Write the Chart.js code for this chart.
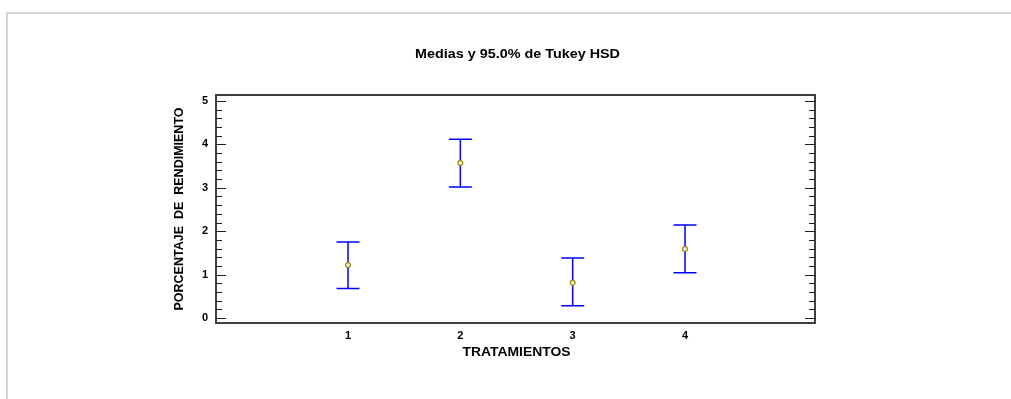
<!DOCTYPE html>
<html>
<head>
<meta charset="utf-8">
<script src="https://cdn.jsdelivr.net/npm/chart.js@4.4.1/dist/chart.umd.min.js"></script>
<style>
html,body{margin:0;padding:0;background:#fff;}
#wrap{width:1011px;height:399px;position:relative;}
</style>
</head>
<body>
<div id="wrap"><canvas id="c" width="1011" height="399"></canvas></div>
<script>
// ---- data ----
const categories = [1, 2, 3, 4];
const categoryLabels = ['1', '2', '3', '4'];
const means = [1.22, 3.57, 0.81, 1.59];
const lower = [0.68, 3.02, 0.28, 1.04];
const upper = [1.75, 4.12, 1.38, 2.14];
const yTicks = [0, 1, 2, 3, 4, 5];
const yMinorTicks = [0.2,0.4,0.6,0.8,1.2,1.4,1.6,1.8,2.2,2.4,2.6,2.8,3.2,3.4,3.6,3.8,4.2,4.4,4.6,4.8];
const chartTitle = 'Medias y 95.0% de Tukey HSD';
const xTitle = 'TRATAMIENTOS';
const yTitle = 'PORCENTAJE  DE  RENDIMIENTO';

const FONT = "'Liberation Sans', Arial, sans-serif";

function stretchedText(ctx, text, cx, cy, size, targetW) {
  ctx.save();
  ctx.font = 'bold ' + size + 'px ' + FONT;
  const w = ctx.measureText(text).width;
  const sx = targetW / w;
  ctx.translate(cx, cy);
  ctx.scale(sx, 1);
  ctx.textAlign = 'center';
  ctx.textBaseline = 'middle';
  ctx.fillStyle = '#000';
  ctx.fillText(text, 0, 0);
  ctx.restore();
}

const decor = {
  id: 'decor',
  beforeDraw(chart) {
    const ctx = chart.ctx;
    ctx.save();
    ctx.strokeStyle = '#d4d4d4';
    ctx.lineWidth = 2;
    ctx.beginPath();
    ctx.moveTo(7, 399);
    ctx.lineTo(7, 13);
    ctx.lineTo(1011, 13);
    ctx.stroke();
    ctx.restore();
  },
  afterDraw(chart) {
    const ctx = chart.ctx;
    const a = chart.chartArea;
    stretchedText(ctx, chartTitle, 517.5, 55, 12, 205);
    stretchedText(ctx, xTitle, (a.left + a.right) / 2 + 1, 352.5, 12.5, 108);
  },
  afterDatasetsDraw(chart) {
    const ctx = chart.ctx;
    const xs = chart.scales.x, ys = chart.scales.y;
    const a = chart.chartArea;
    ctx.save();
    // error bars
    ctx.strokeStyle = '#0000ff';
    ctx.lineWidth = 1.5;
    for (let i = 0; i < categories.length; i++) {
      const x = xs.getPixelForValue(categories[i]);
      const yl = ys.getPixelForValue(lower[i]);
      const yu = ys.getPixelForValue(upper[i]);
      ctx.beginPath();
      ctx.moveTo(x, yl); ctx.lineTo(x, yu);
      ctx.moveTo(x - 11.5, yl); ctx.lineTo(x + 11.5, yl);
      ctx.moveTo(x - 11.5, yu); ctx.lineTo(x + 11.5, yu);
      ctx.stroke();
    }
    // markers on top
    for (let i = 0; i < categories.length; i++) {
      const x = xs.getPixelForValue(categories[i]);
      const y = ys.getPixelForValue(means[i]);
      ctx.beginPath();
      ctx.arc(x, y, 2.4, 0, Math.PI * 2);
      ctx.fillStyle = '#f4f4e0';
      ctx.fill();
      ctx.strokeStyle = '#9a8a10';
      ctx.lineWidth = 1.2;
      ctx.stroke();
    }
    // frame
    ctx.strokeStyle = '#404040';
    ctx.lineWidth = 2;
    ctx.strokeRect(a.left, a.top, a.right - a.left, a.bottom - a.top);
    // inner ticks left and right
    ctx.strokeStyle = '#202020';
    ctx.lineWidth = 1;
    ctx.beginPath();
    yTicks.forEach(v => {
      const y = Math.round(ys.getPixelForValue(v)) + 0.5;
      ctx.moveTo(a.left, y); ctx.lineTo(a.left + 10, y);
      ctx.moveTo(a.right, y); ctx.lineTo(a.right - 10, y);
    });
    yMinorTicks.forEach(v => {
      const y = Math.round(ys.getPixelForValue(v)) + 0.5;
      ctx.moveTo(a.left, y); ctx.lineTo(a.left + 6, y);
      ctx.moveTo(a.right, y); ctx.lineTo(a.right - 6, y);
    });
    ctx.stroke();
    ctx.restore();
  }
};

new Chart(document.getElementById('c'), {
  type: 'scatter',
  data: {
    datasets: [{
      data: categories.map((c, i) => ({x: c, y: means[i]})),
      pointRadius: 0,
      showLine: false
    }]
  },
  options: {
    responsive: false,
    animation: false,
    devicePixelRatio: 1,
    layout: {padding: {left: 0, right: 196, top: 95, bottom: 0}},
    plugins: {
      legend: {display: false},
      tooltip: {enabled: false},
      title: {display: false}
    },
    scales: {
      x: {
        type: 'linear',
        min: -0.175,
        max: 5.157,
        grid: {display: false, drawTicks: false},
        border: {display: false},
        afterBuildTicks(s) { s.ticks = categories.map(v => ({value: v})); },
        afterFit(s) { s.height = 76; },
        ticks: {
          autoSkip: false,
          maxRotation: 0,
          padding: 6,
          color: '#000',
          font: {family: FONT, size: 11, weight: 'bold'},
          callback(v) { const i = categories.indexOf(v); return i >= 0 ? categoryLabels[i] : ''; }
        }
      },
      y: {
        type: 'linear',
        min: -0.115,
        max: 5.138,
        grid: {display: false, drawTicks: false},
        border: {display: false},
        afterBuildTicks(s) { s.ticks = yTicks.map(v => ({value: v})); },
        afterFit(s) { s.width = 216; },
        ticks: {
          padding: 8,
          color: '#000',
          font: {family: FONT, size: 11, weight: 'bold'}
        },
        title: {
          display: true,
          text: yTitle,
          color: '#000',
          font: {family: FONT, size: 12.5, weight: 'bold', lineHeight: 1.2},
          padding: {top: 172.5, bottom: 0}
        }
      }
    }
  },
  plugins: [decor]
});
</script>
</body>
</html>
